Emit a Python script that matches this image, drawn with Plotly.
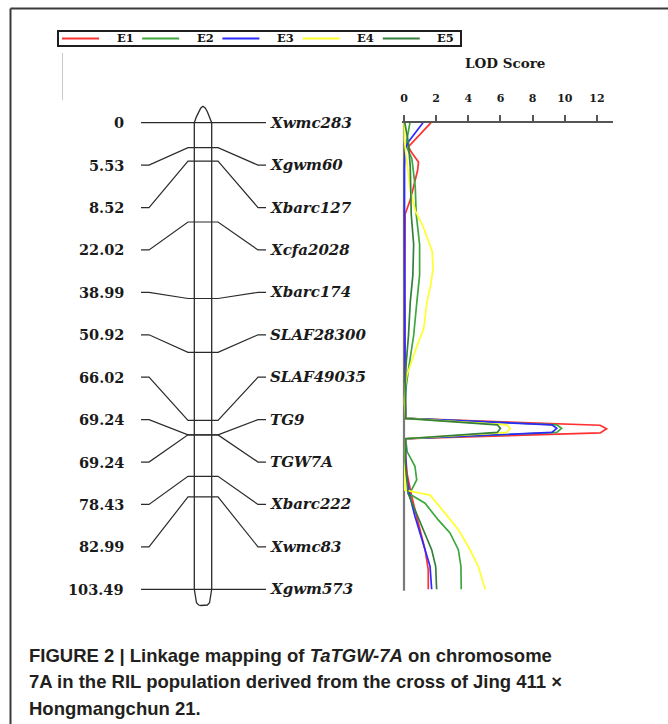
import numpy as np
import plotly.graph_objects as go

# ---------------- data ----------------
markers = ["Xwmc283", "Xgwm60", "Xbarc127", "Xcfa2028", "Xbarc174", "SLAF28300",
           "SLAF49035", "TG9", "TGW7A", "Xbarc222", "Xwmc83", "Xgwm573"]
positions = [0, 5.53, 8.52, 22.02, 38.99, 50.92, 66.02, 69.24, 69.24, 78.43, 82.99, 103.49]
position_labels = ["0", "5.53", "8.52", "22.02", "38.99", "50.92", "66.02",
                   "69.24", "69.24", "78.43", "82.99", "103.49"]

env_names = ["E1", "E2", "E3", "E4", "E5"]
env_colors = ["#ff3030", "#3da63d", "#2b2bff", "#ffff2e", "#347f3a"]

e1_pos = [0, 5.3, 6.5, 8.7, 10.5, 14.3, 17, 20.3, 25, 35, 45, 55, 65.6, 67.1, 67.9, 68.8, 70.1,
          74, 78, 82.9, 88.8, 94.7, 99.2, 103.49]
e1_lod = [1.68, 0.28, 0.45, 0.9, 0.85, 0.6, 0.4, 0.07, 0.05, 0.05, 0.05, 0.05, 0.1, 12.2, 12.6, 12.2, 0.1,
          0.1, 0.2, 0.48, 0.89, 1.31, 1.51, 1.51]

e2_pos = [0, 4.2, 5.7, 8, 14.3, 20.3, 27, 33.8, 39.75, 47.2, 54.7, 58.4, 62, 65.6, 67.0, 67.8, 68.7, 70.1,
          73, 76.2, 79.2, 81.4, 82.2, 84.4, 88.1, 91.0, 94.7, 98.4, 103.49]
e2_lod = [0.37, 0.16, 0.2, 0.49, 0.7, 0.76, 0.97, 0.97, 0.8, 0.6, 0.28, 0.14, 0.07, 0.1, 9.5, 9.8, 9.5, 0.1,
          0.2, 0.68, 0.79, 0.48, 0.27, 1.31, 2.13, 2.86, 3.38, 3.54, 3.56]

e3_pos = [0, 4.2, 5.7, 10, 20, 30, 40, 50, 60, 65.6, 67.0, 67.8, 68.7, 70.1,
          74, 78, 82.9, 87.3, 94.7, 98.4, 103.49]
e3_lod = [1.18, 0.28, 0.07, 0.03, 0.03, 0.06, 0.05, 0.06, 0.06, 0.1, 9.2, 9.5, 9.2, 0.1,
          0.1, 0.15, 0.37, 0.68, 1.31, 1.62, 1.72]

e4_pos = [0, 4, 7, 10, 15, 19.5, 23.3, 28.5, 32.3, 36, 39.75, 42.7, 45.7, 49.5, 54, 56, 58.4, 62,
          65.6, 67.0, 67.8, 68.7, 70.1, 75, 81.5, 82.6, 86.6, 90.3, 94.0, 98.4, 101.4, 103.49]
e4_lod = [0.01, 0.03, 0.12, 0.22, 0.4, 0.7, 1.22, 1.75, 1.81, 1.66, 1.43, 1.33, 1.22, 0.81, 0.39, 0.18, 0.07, 0.03,
          0.1, 6.4, 6.6, 6.4, 0.1, 0.05, 0.05, 1.62, 2.55, 3.38, 4.0, 4.62, 4.87, 5.05]

e5_pos = [0, 4.6, 9.85, 20.3, 27, 33.8, 39.75, 47.2, 53.2, 58.4, 65.6, 67.0, 67.8, 68.7, 70.1,
          75, 82.2, 88.8, 94.7, 98.4, 103.49]
e5_lod = [0.05, 0.28, 0.39, 0.45, 0.6, 0.55, 0.39, 0.28, 0.14, 0.07, 0.1, 5.8, 6.0, 5.8, 0.1,
          0.07, 0.25, 1.0, 1.72, 1.97, 2.03]

lod_ticks = [0, 2, 4, 6, 8, 10, 12]

caption_lines = [
    "FIGURE 2 | Linkage mapping of <i>TaTGW-7A</i> on chromosome",
    "7A in the RIL population derived from the cross of Jing 411 \u00d7",
    "Hongmangchun 21.",
]

# ---------------- layout geometry (pixels) ----------------
W, H = 668, 724
TOP_PX, PX_PER_CM = 122.7, 4.5087          # cM 0 position and scale
LOD0_PX, PX_PER_LOD, LOD_END_PX = 404, 16.08, 613
LOD_AXIS_Y_PX = 121.5
CX, HW, CROSS = 203.0, 8.7, 15.0
L_END, L_KNEE, R_KNEE, R_END = 141, 149, 258, 266
L_LABEL_X, R_LABEL_X = 126, 268
# legend box geometry
LEG_X0, LEG_X1, LEG_Y0, LEG_Y1 = 58, 461, 31, 46
LEG_LINE_X0, LEG_LINE_LEN, LEG_STEP, LEG_TEXT_DX = 62, 37, 80.2, 63


def px_x(p):
    return p / W


def px_y(p):
    return 1 - p / H


y_top = -TOP_PX / PX_PER_CM
y_bot = (H - TOP_PX) / PX_PER_CM
rows = np.linspace(positions[0], positions[-1], len(positions))

fig = go.Figure()

line_col = "#2b2b2b"

# chromosome outline
p0, p1 = positions[0], positions[-1]
t = np.linspace(0, 1, 9)
top_dx = -HW + 2 * HW * t
top_dy = -3.65 * (1 - np.abs(2 * t - 1) ** 1.6)
bot_dy = 3.6 * np.sqrt(np.clip(1 - (2 * t - 1) ** 4, 0, 1))
chr_x = [CX - HW, CX - HW] + list(CX + top_dx) + [CX + HW, CX + HW] + list(CX - top_dx)
chr_y = [p0, p1] + list(p1 + bot_dy) + [p1, p0] + list(p0 + top_dy[::-1])
fig.add_trace(go.Scatter(x=chr_x, y=chr_y, mode="lines", line=dict(color=line_col, width=1.3),
                         showlegend=False, hoverinfo="skip", xaxis="x", yaxis="y"))

# marker connectors
for pos, row in zip(positions, rows):
    fig.add_trace(go.Scatter(
        x=[L_END, L_KNEE, CX - CROSS, CX + CROSS, R_KNEE, R_END],
        y=[row, row, pos, pos, row, row],
        mode="lines", line=dict(color=line_col, width=1.2),
        showlegend=False, hoverinfo="skip", xaxis="x", yaxis="y"))

# LOD curves
series = [(e1_pos, e1_lod), (e2_pos, e2_lod), (e3_pos, e3_lod), (e4_pos, e4_lod), (e5_pos, e5_lod)]
for name, col, (ps, ls) in zip(env_names, env_colors, series):
    fig.add_trace(go.Scatter(x=ls, y=ps, mode="lines", name=name,
                             line=dict(color=col, width=1.7), showlegend=False,
                             xaxis="x2", yaxis="y", hoverinfo="skip"))

annotations = []
for lab, row in zip(position_labels, rows):
    annotations.append(dict(x=L_LABEL_X, y=row, xref="x", yref="y", text=lab, showarrow=False,
                            xanchor="right", yanchor="middle",
                            font=dict(family="DejaVu Serif", size=14.5, color="#1a1a1a", weight="bold")))
for lab, row in zip(markers, rows):
    annotations.append(dict(x=R_LABEL_X, y=row, xref="x", yref="y", text=lab, showarrow=False,
                            xanchor="left", yanchor="middle",
                            font=dict(family="DejaVu Serif", size=15, color="#1a1a1a",
                                      weight="bold", style="italic")))

annotations.append(dict(x=px_x(505), y=px_y(63), xref="paper", yref="paper", text="LOD Score",
                        showarrow=False, xanchor="center", yanchor="middle",
                        font=dict(family="DejaVu Serif", size=13.5, color="#1a1a1a", weight="bold")))

for i, txt in enumerate(caption_lines):
    annotations.append(dict(x=px_x(27), y=px_y(655 + 26.5 * i), xref="paper", yref="paper", text=txt,
                            showarrow=False, xanchor="left", yanchor="middle",
                            font=dict(family="Liberation Sans", size=18.5, color="#231f20", weight="bold")))

lod_min = -0.15
shapes = [
    # figure frame (left and top)
    dict(type="line", xref="paper", yref="paper", x0=px_x(10.5), x1=px_x(10.5), y0=0, y1=px_y(8.5),
         line=dict(color="#3a3a3a", width=2)),
    dict(type="line", xref="paper", yref="paper", x0=px_x(10.5), x1=1, y0=px_y(8.5), y1=px_y(8.5),
         line=dict(color="#3a3a3a", width=2)),
    # faint vertical artifact line
    dict(type="line", xref="paper", yref="paper", x0=px_x(62.5), x1=px_x(62.5), y0=px_y(53), y1=px_y(100),
         line=dict(color="#c8c8c8", width=1)),
    # LOD profile vertical axis
    dict(type="line", xref="x2", yref="y", x0=0, x1=0, y0=positions[0] - 0.3, y1=positions[-1] + 0.3,
         line=dict(color="#7a7a7a", width=2.2), layer="below"),
    # legend box
    dict(type="rect", xref="paper", yref="paper", x0=px_x(LEG_X0), x1=px_x(LEG_X1),
         y0=px_y(LEG_Y1), y1=px_y(LEG_Y0), line=dict(color="#1e1e1e", width=2), fillcolor="white"),
]

# legend entries (sample line + label) for each environment
leg_mid = (LEG_Y0 + LEG_Y1) / 2
for i, (name, col) in enumerate(zip(env_names, env_colors)):
    lx0 = LEG_LINE_X0 + i * LEG_STEP
    shapes.append(dict(type="line", xref="paper", yref="paper",
                       x0=px_x(lx0), x1=px_x(lx0 + LEG_LINE_LEN),
                       y0=px_y(leg_mid), y1=px_y(leg_mid),
                       line=dict(color=col, width=2)))
    annotations.append(dict(x=px_x(lx0 + LEG_TEXT_DX), y=px_y(leg_mid), xref="paper", yref="paper",
                            text=name, showarrow=False, xanchor="center", yanchor="middle",
                            font=dict(family="DejaVu Serif", size=11.5, color="#111111", weight="bold")))

fig.update_layout(
    width=W, height=H,
    margin=dict(l=0, r=0, t=0, b=0),
    paper_bgcolor="white", plot_bgcolor="white",
    xaxis=dict(range=[0, W], domain=[0, 1], visible=False, fixedrange=True),
    yaxis=dict(range=[y_bot, y_top], domain=[0, 1], visible=False, fixedrange=True),
    xaxis2=dict(domain=[px_x(LOD0_PX + lod_min * PX_PER_LOD), px_x(LOD_END_PX)],
                range=[lod_min, (LOD_END_PX - LOD0_PX) / PX_PER_LOD],
                anchor="free", position=px_y(LOD_AXIS_Y_PX), side="top",
                showline=True, linecolor="#555555", linewidth=1.5,
                ticks="outside", ticklen=6, tickwidth=1.5, tickcolor="#555555",
                tickvals=lod_ticks, ticktext=[str(v) for v in lod_ticks],
                tickfont=dict(family="DejaVu Serif", size=11, color="#1a1a1a", weight="bold"),
                ticklabelstandoff=8,
                showgrid=False, zeroline=False, fixedrange=True),
    showlegend=False,
    annotations=annotations,
    shapes=shapes,
)

fig.write_html("out.html")
